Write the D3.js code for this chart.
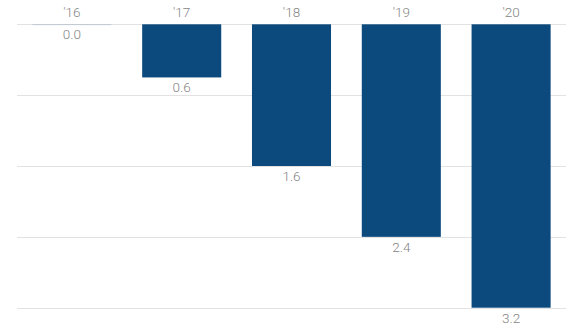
<!DOCTYPE html>
<html>
<head>
<meta charset="utf-8">
<script src="https://cdn.jsdelivr.net/npm/d3@7"></script>
<style>
  html, body { margin: 0; padding: 0; background: #fff; }
  svg { display: block; }
  text { font-family: Roboto, "Open Sans", sans-serif; font-weight: 300; fill: #858585; }
</style>
</head>
<body>
<svg id="chart" width="580" height="325"></svg>
<script>
// Data
const years = ["'16", "'17", "'18", "'19", "'20"];
const values = [0.0, 0.6, 1.6, 2.4, 3.2];
const gridTicks = [0, 0.8, 1.6, 2.4, 3.2];

const svg = d3.select("#chart");

const x = d3.scaleBand()
  .domain(years)
  .range([17, 566])
  .paddingInner(0.28)
  .paddingOuter(0.14);

// Bars hang downward from the zero line
const y = d3.scaleLinear()
  .domain([0, 3.2])
  .range([24.3, 307.7]);

// Horizontal grid lines
svg.append("g")
  .selectAll("line")
  .data(gridTicks)
  .join("line")
  .attr("x1", 17)
  .attr("x2", 566)
  .attr("y1", d => Math.round(y(d)) + 0.5)
  .attr("y2", d => Math.round(y(d)) + 0.5)
  .attr("stroke", "#e2e2e2")
  .attr("stroke-width", 1);

// Bars
svg.append("g")
  .selectAll("rect")
  .data(values)
  .join("rect")
  .attr("x", (d, i) => x(years[i]))
  .attr("y", y(0))
  .attr("width", x.bandwidth())
  .attr("height", d => Math.max(y(d) - y(0), 0.8))
  .attr("fill", d => d === 0 ? "#b9c2cc" : "#0c4a7e");

// Year labels above the zero line
svg.append("g")
  .selectAll("text")
  .data(years)
  .join("text")
  .attr("x", d => x(d) + x.bandwidth() / 2)
  .attr("y", 17)
  .attr("text-anchor", "middle")
  .attr("font-size", 13.5)
  .text(d => d);

// Value labels under each bar
svg.append("g")
  .selectAll("text")
  .data(values)
  .join("text")
  .attr("x", (d, i) => x(years[i]) + x.bandwidth() / 2)
  .attr("y", d => y(d) + 15)
  .attr("text-anchor", "middle")
  .attr("font-size", 13.5)
  .text(d => d.toFixed(1));
</script>
</body>
</html>
